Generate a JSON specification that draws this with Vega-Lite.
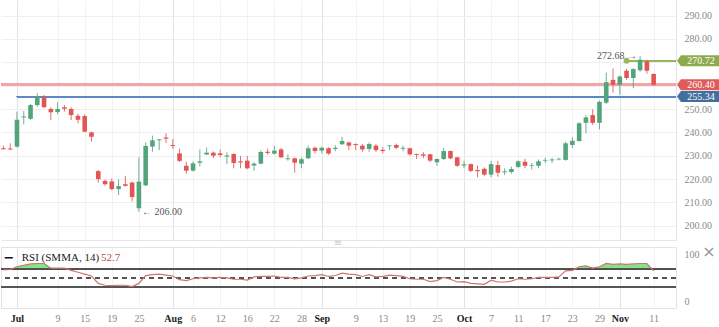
{
  "$schema": "https://vega.github.io/schema/vega-lite/v6.json",
  "padding": 0,
  "background": "white",
  "spacing": 7,
  "bounds": "flush",
  "config": {"view": {"stroke": null}, "font": "Liberation Serif"},
  "datasets": {
    "candles": [
      {"i": -2, "o": 233.2, "h": 234.3, "l": 232.6, "c": 232.8, "r": 67},
      {"i": -1, "o": 233.1, "h": 235.3, "l": 232.3, "c": 232.7, "r": 68},
      {"i": 0, "o": 233.9, "h": 248.8, "l": 233.5, "c": 245.4, "r": 74},
      {"i": 1, "o": 246.4, "h": 249.1, "l": 243.4, "c": 246.8, "r": 77},
      {"i": 2, "o": 245.8, "h": 252.2, "l": 245.4, "c": 251.7, "r": 80},
      {"i": 3, "o": 251.7, "h": 256.7, "l": 251.0, "c": 255.4, "r": 81},
      {"i": 4, "o": 255.1, "h": 256.0, "l": 250.3, "c": 250.8, "r": 81},
      {"i": 5, "o": 250.0, "h": 250.8, "l": 245.2, "c": 248.6, "r": 71},
      {"i": 6, "o": 248.7, "h": 252.9, "l": 247.7, "c": 250.0, "r": 71},
      {"i": 7, "o": 250.8, "h": 251.7, "l": 248.9, "c": 250.1, "r": 71},
      {"i": 8, "o": 250.0, "h": 250.8, "l": 245.3, "c": 247.4, "r": 66},
      {"i": 9, "o": 247.1, "h": 248.0, "l": 243.9, "c": 245.4, "r": 62},
      {"i": 10, "o": 247.0, "h": 247.7, "l": 240.0, "c": 240.3, "r": 58},
      {"i": 11, "o": 240.0, "h": 240.3, "l": 236.0, "c": 238.1, "r": 54},
      {"i": 12, "o": 223.4, "h": 223.9, "l": 218.5, "c": 220.0, "r": 38},
      {"i": 13, "o": 219.2, "h": 219.8, "l": 217.2, "c": 217.8, "r": 34},
      {"i": 14, "o": 219.0, "h": 220.3, "l": 215.1, "c": 215.7, "r": 33},
      {"i": 15, "o": 215.7, "h": 219.9, "l": 213.2, "c": 217.0, "r": 34},
      {"i": 16, "o": 217.8, "h": 221.4, "l": 216.8, "c": 217.1, "r": 34},
      {"i": 17, "o": 218.5, "h": 218.9, "l": 210.4, "c": 212.3, "r": 31},
      {"i": 18, "o": 207.5, "h": 229.3, "l": 206.0, "c": 218.9, "r": 38},
      {"i": 19, "o": 217.3, "h": 235.7, "l": 217.0, "c": 234.2, "r": 55},
      {"i": 20, "o": 233.9, "h": 238.6, "l": 231.7, "c": 236.6, "r": 57},
      {"i": 21, "o": 236.6, "h": 237.1, "l": 232.4, "c": 237.0, "r": 58},
      {"i": 22, "o": 237.8, "h": 239.6, "l": 235.4, "c": 237.3, "r": 56},
      {"i": 23, "o": 234.6, "h": 237.1, "l": 233.0, "c": 234.2, "r": 54},
      {"i": 24, "o": 231.0, "h": 233.0, "l": 227.3, "c": 227.8, "r": 46},
      {"i": 25, "o": 225.7, "h": 227.3, "l": 222.3, "c": 223.6, "r": 44},
      {"i": 26, "o": 223.6, "h": 227.6, "l": 223.2, "c": 226.7, "r": 48},
      {"i": 27, "o": 227.0, "h": 232.7, "l": 225.5, "c": 227.6, "r": 50},
      {"i": 28, "o": 230.5, "h": 233.5, "l": 230.4, "c": 231.3, "r": 51},
      {"i": 29, "o": 231.3, "h": 231.8, "l": 229.0, "c": 230.0, "r": 50},
      {"i": 30, "o": 231.0, "h": 232.7, "l": 229.3, "c": 230.3, "r": 51},
      {"i": 31, "o": 229.6, "h": 231.5, "l": 226.4, "c": 230.1, "r": 50},
      {"i": 32, "o": 230.7, "h": 231.1, "l": 224.6, "c": 226.9, "r": 47},
      {"i": 33, "o": 227.6, "h": 229.9, "l": 224.6, "c": 227.1, "r": 47},
      {"i": 34, "o": 227.9, "h": 229.9, "l": 224.2, "c": 224.6, "r": 45},
      {"i": 35, "o": 225.8, "h": 227.2, "l": 223.6, "c": 226.6, "r": 52},
      {"i": 36, "o": 226.6, "h": 232.3, "l": 226.3, "c": 231.6, "r": 53},
      {"i": 37, "o": 231.7, "h": 233.0, "l": 230.5, "c": 231.2, "r": 53},
      {"i": 38, "o": 230.9, "h": 234.2, "l": 230.4, "c": 232.2, "r": 54},
      {"i": 39, "o": 232.7, "h": 233.3, "l": 229.0, "c": 229.3, "r": 51},
      {"i": 40, "o": 228.5, "h": 230.6, "l": 227.9, "c": 228.9, "r": 51},
      {"i": 41, "o": 228.9, "h": 229.2, "l": 222.8, "c": 227.0, "r": 48},
      {"i": 42, "o": 226.6, "h": 229.2, "l": 224.6, "c": 228.5, "r": 50},
      {"i": 43, "o": 228.9, "h": 234.3, "l": 228.6, "c": 233.2, "r": 54},
      {"i": 44, "o": 233.4, "h": 233.9, "l": 231.0, "c": 232.0, "r": 55},
      {"i": 45, "o": 232.2, "h": 233.9, "l": 231.0, "c": 233.4, "r": 57},
      {"i": 46, "o": 233.2, "h": 233.6, "l": 230.4, "c": 230.9, "r": 53},
      {"i": 47, "o": 232.9, "h": 234.5, "l": 231.9, "c": 233.4, "r": 55},
      {"i": 48, "o": 234.9, "h": 238.1, "l": 234.7, "c": 236.3, "r": 60},
      {"i": 49, "o": 235.7, "h": 236.0, "l": 232.4, "c": 234.3, "r": 58},
      {"i": 50, "o": 235.0, "h": 235.3, "l": 232.4, "c": 234.6, "r": 57},
      {"i": 51, "o": 234.3, "h": 235.0, "l": 231.7, "c": 232.7, "r": 53},
      {"i": 52, "o": 232.9, "h": 235.7, "l": 231.7, "c": 235.0, "r": 57},
      {"i": 53, "o": 234.3, "h": 235.0, "l": 231.6, "c": 232.4, "r": 52},
      {"i": 54, "o": 232.5, "h": 233.7, "l": 231.0, "c": 232.0, "r": 53},
      {"i": 55, "o": 234.1, "h": 234.6, "l": 232.4, "c": 234.4, "r": 56},
      {"i": 56, "o": 234.6, "h": 235.2, "l": 232.8, "c": 233.4, "r": 55},
      {"i": 57, "o": 233.0, "h": 234.3, "l": 231.9, "c": 233.4, "r": 53},
      {"i": 58, "o": 233.2, "h": 233.5, "l": 230.0, "c": 230.6, "r": 48},
      {"i": 59, "o": 230.7, "h": 230.9, "l": 228.6, "c": 230.3, "r": 47},
      {"i": 60, "o": 230.6, "h": 231.5, "l": 228.9, "c": 230.0, "r": 47},
      {"i": 61, "o": 230.6, "h": 230.9, "l": 227.2, "c": 227.9, "r": 42},
      {"i": 62, "o": 227.2, "h": 228.9, "l": 225.7, "c": 228.6, "r": 44},
      {"i": 63, "o": 228.6, "h": 233.4, "l": 228.2, "c": 232.0, "r": 51},
      {"i": 64, "o": 232.0, "h": 232.2, "l": 228.5, "c": 228.9, "r": 47},
      {"i": 65, "o": 229.3, "h": 229.6, "l": 225.2, "c": 225.7, "r": 41},
      {"i": 66, "o": 225.8, "h": 227.8, "l": 224.6, "c": 226.3, "r": 42},
      {"i": 67, "o": 226.4, "h": 226.7, "l": 223.0, "c": 223.5, "r": 38},
      {"i": 68, "o": 223.9, "h": 225.8, "l": 220.8, "c": 223.4, "r": 37},
      {"i": 69, "o": 224.4, "h": 225.0, "l": 221.2, "c": 221.9, "r": 36},
      {"i": 70, "o": 221.9, "h": 227.8, "l": 220.7, "c": 226.4, "r": 45},
      {"i": 71, "o": 226.0, "h": 227.8, "l": 221.0, "c": 222.7, "r": 41},
      {"i": 72, "o": 222.9, "h": 224.6, "l": 221.7, "c": 223.3, "r": 41},
      {"i": 73, "o": 223.0, "h": 225.3, "l": 222.3, "c": 224.3, "r": 43},
      {"i": 74, "o": 225.2, "h": 228.0, "l": 224.6, "c": 227.6, "r": 48},
      {"i": 75, "o": 227.4, "h": 228.7, "l": 224.6, "c": 225.7, "r": 47},
      {"i": 76, "o": 225.7, "h": 226.9, "l": 224.0, "c": 226.0, "r": 48},
      {"i": 77, "o": 225.7, "h": 228.4, "l": 224.6, "c": 227.6, "r": 51},
      {"i": 78, "o": 227.9, "h": 229.1, "l": 226.9, "c": 228.2, "r": 51},
      {"i": 79, "o": 228.0, "h": 229.1, "l": 226.9, "c": 228.4, "r": 51},
      {"i": 80, "o": 228.4, "h": 229.1, "l": 228.0, "c": 228.7, "r": 52},
      {"i": 81, "o": 228.2, "h": 236.0, "l": 227.9, "c": 235.3, "r": 65},
      {"i": 82, "o": 234.6, "h": 237.9, "l": 233.2, "c": 236.4, "r": 66},
      {"i": 83, "o": 236.3, "h": 244.3, "l": 236.0, "c": 243.9, "r": 74},
      {"i": 84, "o": 244.1, "h": 247.4, "l": 239.6, "c": 246.4, "r": 76},
      {"i": 85, "o": 247.4, "h": 249.9, "l": 243.2, "c": 244.1, "r": 71},
      {"i": 86, "o": 244.1, "h": 253.6, "l": 241.3, "c": 253.1, "r": 74},
      {"i": 87, "o": 252.7, "h": 265.6, "l": 252.2, "c": 261.5, "r": 81},
      {"i": 88, "o": 262.5, "h": 267.4, "l": 257.0, "c": 260.4, "r": 79},
      {"i": 89, "o": 260.4, "h": 264.3, "l": 256.1, "c": 263.9, "r": 80},
      {"i": 90, "o": 266.4, "h": 267.2, "l": 262.5, "c": 263.3, "r": 79},
      {"i": 91, "o": 263.3, "h": 267.5, "l": 258.9, "c": 267.1, "r": 80},
      {"i": 92, "o": 266.6, "h": 272.68, "l": 266.0, "c": 271.1, "r": 81},
      {"i": 93, "o": 270.4, "h": 271.1, "l": 265.1, "c": 266.4, "r": 81},
      {"i": 94, "o": 265.0, "h": 265.3, "l": 259.9, "c": 260.4, "r": 65}
    ],
    "tags": [
      {"name": "high", "v": 270.72, "label": "270.72"},
      {"name": "close", "v": 260.40, "label": "260.40"},
      {"name": "prev", "v": 255.34, "label": "255.34"}
    ]
  },
  "vconcat": [
    {
      "width": 675,
      "height": 240,
      "data": {"name": "candles"},
      "layer": [
        {
          "mark": {"type": "rule", "color": "#f3a5a5", "strokeWidth": 2},
          "encoding": {
            "y": {"datum": 260.40, "type": "quantitative", "scale": {"domain": [193.9, 296.7], "nice": false, "zero": false},
              "axis": {"orient": "right", "values": [200, 210, 220, 230, 240, 250, 260, 270, 280, 290], "tickCount": 100,
                "labelExpr": "datum.value == 260 || datum.value == 270 ? '' : format(datum.value, '.2f')",
                "grid": true, "gridColor": "#eef0f3", "ticks": false, "tickSize": 0, "domain": true, "domainColor": "#dfe2e6", "labelColor": "#8a8a8a", "labelFontSize": 10, "labelFont": "Liberation Serif", "labelPadding": 8, "labelOverlap": false, "title": null}}
          }
        },
        {
          "mark": {"type": "rule", "color": "#5b88c6", "strokeWidth": 1.2},
          "encoding": {
            "x": {"datum": 0, "type": "quantitative", "scale": {"domain": [-2.36, 97.3], "nice": false, "zero": false, "padding": 0},
              "axis": {"orient": "bottom", "values": [0, 6, 10, 14, 18, 23, 26, 30, 34, 38, 42, 45, 50, 54, 58, 62, 66, 70, 74, 78, 82, 86, 89, 94], "tickCount": 100, "labels": false, "ticks": false, "tickSize": 0, "domain": true, "domainColor": "#e3e6ea", "title": null, "grid": true,
                "gridColor": {"condition": {"test": "indexof([0,23,45,66,89], datum.value) >= 0", "value": "#e0e3e7"}, "value": "#f0f2f4"}}},
            "x2": {"datum": 97.3},
            "y": {"datum": 255.34, "type": "quantitative", "title": null}
          }
        },
        {
          "mark": {"type": "rule", "color": "#9ab55a", "strokeWidth": 1.5},
          "encoding": {
            "x": {"datum": 90, "type": "quantitative", "title": null},
            "x2": {"datum": 97.3},
            "y": {"datum": 270.72, "type": "quantitative", "title": null}
          }
        },
        {
          "mark": {"type": "rule", "strokeWidth": 1, "opacity": 0.85},
          "encoding": {
            "x": {"field": "i", "type": "quantitative", "title": null},
            "y": {"field": "l", "type": "quantitative", "title": null},
            "y2": {"field": "h"},
            "color": {"condition": {"test": "datum.c >= datum.o", "value": "#52a57b"}, "value": "#e25555"}
          }
        },
        {
          "mark": {"type": "bar", "size": 4.6},
          "encoding": {
            "x": {"field": "i", "type": "quantitative", "title": null},
            "y": {"field": "o", "type": "quantitative", "title": null},
            "y2": {"field": "c"},
            "color": {"condition": {"test": "datum.c >= datum.o", "value": "#52a57b"}, "value": "#e25555"}
          }
        },
        {
          "data": {"values": [{}]},
          "mark": {"type": "point", "filled": true, "size": 36, "color": "#9ab55a", "opacity": 1},
          "encoding": {
            "x": {"datum": 90, "type": "quantitative"},
            "y": {"datum": 270.72, "type": "quantitative"}
          }
        },
        {
          "data": {"values": [{}]},
          "mark": {"type": "text", "text": "272.68 \u2192", "align": "right", "baseline": "middle", "dx": -3, "fontSize": 10, "color": "#555555", "font": "Liberation Serif"},
          "encoding": {
            "x": {"datum": 92, "type": "quantitative"},
            "y": {"datum": 272.68, "type": "quantitative"}
          }
        },
        {
          "data": {"values": [{}]},
          "mark": {"type": "text", "text": "\u2190 206.00", "align": "left", "baseline": "middle", "dx": 3, "fontSize": 10, "color": "#555555", "font": "Liberation Serif"},
          "encoding": {
            "x": {"datum": 18, "type": "quantitative"},
            "y": {"datum": 206.0, "type": "quantitative"}
          }
        },
        {
          "data": {"name": "tags"},
          "mark": {"type": "point", "filled": true, "opacity": 1, "size": 1936, "shape": "M -1 0 L -0.82 -0.25 L 1 -0.25 L 1 0.25 L -0.82 0.25 Z", "xOffset": 23},
          "encoding": {
            "x": {"value": "width"},
            "y": {"field": "v", "type": "quantitative", "title": null},
            "color": {"field": "name", "type": "nominal", "legend": null, "scale": {"domain": ["high", "close", "prev"], "range": ["#8dab4d", "#e05a5a", "#41709f"]}}
          }
        },
        {
          "data": {"name": "tags"},
          "mark": {"type": "text", "align": "center", "baseline": "middle", "xOffset": 25, "fontSize": 10, "color": "white", "font": "Liberation Serif"},
          "encoding": {
            "x": {"value": "width"},
            "y": {"field": "v", "type": "quantitative", "title": null},
            "text": {"field": "label"}
          }
        }
      ]
    },
    {
      "width": 675,
      "height": 61,
      "view": {"stroke": "#dfe2e6"},
      "data": {"name": "candles"},
      "layer": [
        {
          "mark": {"type": "area", "interpolate": "linear",
            "fill": {"gradient": "linear", "x1": 0, "y1": 0, "x2": 0, "y2": 1,
              "stops": [{"offset": 0, "color": "#84e384"}, {"offset": 0.22, "color": "#84e384"}, {"offset": 0.22, "color": "rgba(255,255,255,0)"}, {"offset": 1, "color": "rgba(255,255,255,0)"}]}},
          "encoding": {
            "x": {"field": "i", "type": "quantitative", "scale": {"domain": [-2.36, 97.3], "nice": false, "zero": false, "padding": 0},
              "axis": {"orient": "bottom", "values": [0, 6, 10, 14, 18, 23, 26, 30, 34, 38, 42, 45, 50, 54, 58, 62, 66, 70, 74, 78, 82, 86, 89, 94], "tickCount": 100,
                "labelExpr": "['Jul','9','15','19','25','Aug','6','12','16','22','28','Sep','9','13','19','25','Oct','7','11','17','23','29','Nov','11'][indexof([0,6,10,14,18,23,26,30,34,38,42,45,50,54,58,62,66,70,74,78,82,86,89,94], datum.value)]",
                "labelFontWeight": {"condition": {"test": "indexof([0,23,45,66,89], datum.value) >= 0", "value": "bold"}, "value": "normal"},
                "labelColor": {"condition": {"test": "indexof([0,23,45,66,89], datum.value) >= 0", "value": "#222222"}, "value": "#888888"},
                "labelFont": "Liberation Serif", "labelFontSize": 10, "labelPadding": 5, "ticks": false, "tickSize": 0, "domain": false, "title": null, "grid": true,
                "labelOverlap": false,
                "gridColor": {"condition": {"test": "indexof([0,23,45,66,89], datum.value) >= 0", "value": "#e0e3e7"}, "value": "#f0f2f4"}}},
            "y": {"field": "r", "type": "quantitative", "scale": {"domain": [-15.1, 116.6], "nice": false, "zero": false},
              "axis": {"orient": "right", "values": [0, 100], "tickCount": 10, "grid": false, "ticks": false, "tickSize": 0, "domain": false, "labelColor": "#8a8a8a", "labelFontSize": 10, "labelFont": "Liberation Serif", "labelPadding": 8, "labelOverlap": false, "title": null}},
            "y2": {"datum": 70}
          }
        },
        {
          "mark": {"type": "rule", "color": "#555555", "strokeWidth": 1},
          "encoding": {"y": {"datum": 70, "type": "quantitative"}}
        },
        {
          "mark": {"type": "rule", "color": "#555555", "strokeWidth": 1},
          "encoding": {"y": {"datum": 30, "type": "quantitative"}}
        },
        {
          "mark": {"type": "rule", "color": "#555555", "strokeWidth": 1, "strokeDash": [5, 4]},
          "encoding": {"y": {"datum": 50, "type": "quantitative"}}
        },
        {
          "mark": {"type": "line", "color": "#d07373", "strokeWidth": 1.2},
          "encoding": {
            "x": {"field": "i", "type": "quantitative"},
            "y": {"field": "r", "type": "quantitative"}
          }
        },
        {
          "data": {"values": [{}]},
          "mark": {"type": "text", "text": "\u2212", "align": "center", "baseline": "middle", "fontSize": 13, "fontWeight": "bold", "color": "#111111", "font": "DejaVu Sans"},
          "encoding": {
            "x": {"datum": -1.2, "type": "quantitative"},
            "y": {"datum": 92.9, "type": "quantitative"}
          }
        },
        {
          "data": {"values": [{}]},
          "mark": {"type": "text", "text": "RSI (SMMA, 14)", "align": "left", "baseline": "middle", "fontSize": 11, "color": "#222222", "font": "Liberation Serif"},
          "encoding": {
            "x": {"datum": 0.7, "type": "quantitative"},
            "y": {"datum": 92.9, "type": "quantitative"}
          }
        },
        {
          "data": {"values": [{}]},
          "mark": {"type": "text", "text": "52.7", "align": "left", "baseline": "middle", "fontSize": 11, "color": "#b94a48", "font": "Liberation Serif"},
          "encoding": {
            "x": {"datum": 12.4, "type": "quantitative"},
            "y": {"datum": 92.9, "type": "quantitative"}
          }
        },
        {
          "data": {"values": [{}]},
          "mark": {"type": "text", "text": "\u00d7", "align": "center", "baseline": "middle", "xOffset": 33, "fontSize": 16, "color": "#999999", "font": "DejaVu Sans"},
          "encoding": {
            "x": {"value": "width"},
            "y": {"datum": 105.8, "type": "quantitative"}
          }
        },
        {
          "data": {"values": [{}]},
          "mark": {"type": "text", "text": "\u2261", "align": "center", "baseline": "middle", "fontSize": 10, "color": "#cccccc", "font": "DejaVu Sans"},
          "encoding": {
            "x": {"datum": 47.4, "type": "quantitative"},
            "y": {"datum": 125, "type": "quantitative"}
          }
        }
      ]
    }
  ]
}
